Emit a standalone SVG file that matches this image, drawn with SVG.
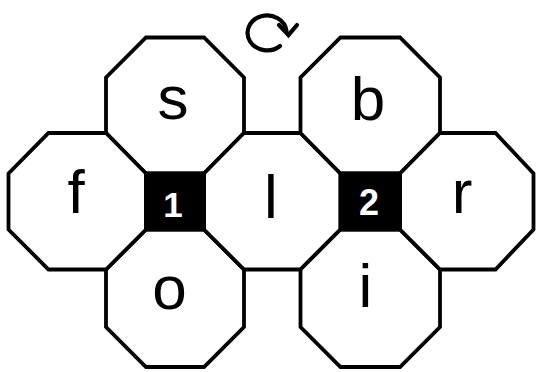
<svg xmlns="http://www.w3.org/2000/svg" width="536" height="372" viewBox="0 0 536 372">
<style>
.oct{fill:#fff;stroke:#000;stroke-width:3.8;stroke-linejoin:miter}
.sq{fill:#000;stroke:#000;stroke-width:3.8}
.lbl{font-family:"Liberation Sans",Arial,sans-serif;font-size:62px;fill:#000;text-anchor:middle}
.num{font-family:"Liberation Sans",Arial,sans-serif;font-weight:bold;fill:#fff;text-anchor:middle}
.rot{fill:none;stroke:#000;stroke-width:4.2;stroke-linecap:round;stroke-linejoin:miter}
</style>
<rect width="536" height="372" fill="#fff"/>
<g id="node-s"><polygon class="oct" points="146,37.5 204,37.5 244,77.5 244,133 204,173.5 146,173.5 106,133 106,77.5"/><text class="lbl" x="173" y="119">s</text></g>
<g id="node-o"><polygon class="oct" points="146,229.5 204,229.5 244,269.5 244,327 204,367 146,367 106,327 106,269.5"/><text class="lbl" x="169.5" y="308.5">o</text></g>
<g id="node-f"><polygon class="oct" points="48.5,133 106,133 146,173.5 146,229.5 106,269.5 48.5,269.5 8.5,229.5 8.5,173.5"/><text class="lbl" x="76" y="212.5">f</text></g>
<g id="node-l"><polygon class="oct" points="244,133 300.5,133 340.5,173.5 340.5,229.5 300.5,269.5 244,269.5 204,229.5 204,173.5"/><text class="lbl" x="271" y="218">l</text></g>
<g id="node-b"><polygon class="oct" points="340.5,37.5 400,37.5 440,77.5 440,133 400,173.5 340.5,173.5 300.5,133 300.5,77.5"/><text class="lbl" x="368" y="120">b</text></g>
<g id="node-i"><polygon class="oct" points="340.5,229.5 400,229.5 440,269.5 440,327 400,367 340.5,367 300.5,327 300.5,269.5"/><text class="lbl" x="365.5" y="306.5">i</text></g>
<g id="node-r"><polygon class="oct" points="440,133 495.5,133 533.5,173.5 533.5,229.5 495.5,269.5 440,269.5 400,229.5 400,173.5"/><text class="lbl" x="462" y="212.5">r</text></g>
<g id="node-1"><rect class="sq" x="146" y="173.5" width="58" height="56"/><text class="num" x="173" y="216.5" font-size="35">1</text></g>
<g id="node-2"><rect class="sq" x="340.5" y="173.5" width="59.5" height="56"/><text class="num" x="369" y="215" font-size="36">2</text></g>
<g id="rotate"><path class="rot" d="M 280,46 A 19.5 17.5 0 1 1 286.5,31"/><path class="rot" d="M 279,25 L 288.5,35 L 297,25"/></g>
<g id="connectors"></g>
</svg>
